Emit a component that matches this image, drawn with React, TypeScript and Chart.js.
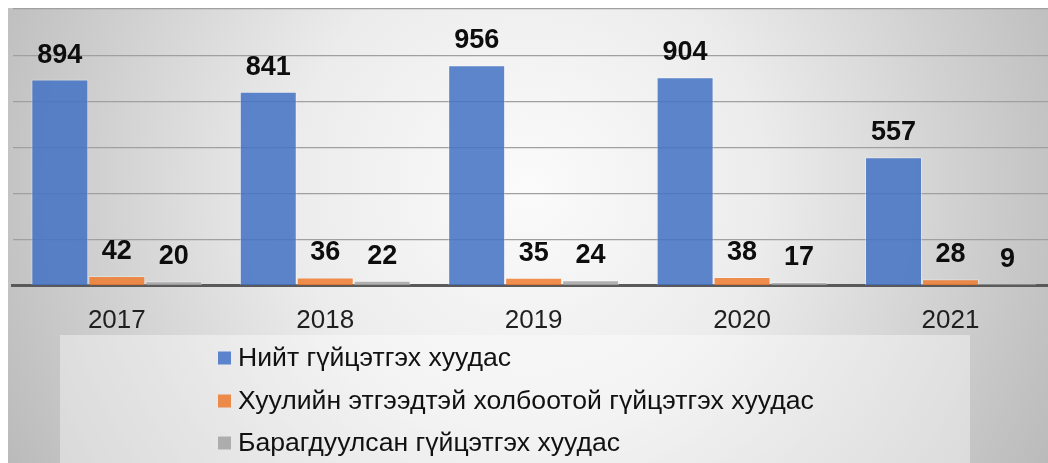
import React, { useEffect, useRef } from "react";
import { Chart, registerables } from "chart.js";

Chart.register(...registerables);

const categories = ["2017", "2018", "2019", "2020", "2021"];
const seriesNames = [
  "Нийт гүйцэтгэх хуудас",
  "Хуулийн этгээдтэй холбоотой гүйцэтгэх хуудас",
  "Барагдуулсан гүйцэтгэх хуудас",
];
const totalPages = [894, 841, 956, 904, 557];
const legalEntityPages = [42, 36, 35, 38, 28];
const resolvedPages = [20, 22, 24, 17, 9];
const yMax = 1200;
const yStep = 200;

const barColors = ["rgba(68,114,196,0.86)", "rgba(237,125,49,0.86)", "rgba(165,165,165,0.86)"];
const legendColors = ["#5b84cd", "#ec8a4a", "#adadad"];
const FONT = '"Liberation Sans", Arial, sans-serif';

const bgPlugin = {
  id: "bgPlugin",
  beforeDraw(chart: any) {
    const { ctx, width, height } = chart;
    ctx.save();
    const g = ctx.createRadialGradient(520, 180, 0, 520, 180, 590);
    g.addColorStop(0, "#fbfbfb");
    g.addColorStop(0.4, "#ececec");
    g.addColorStop(1, "#bababa");
    ctx.fillStyle = g;
    ctx.fillRect(0, 0, width, height);
    ctx.fillStyle = "rgba(255,255,255,0.4)";
    ctx.fillRect(52, 327, 910, height - 327);
    ctx.restore();
  },
};

const labelPlugin = {
  id: "labelPlugin",
  afterDatasetsDraw(chart: any) {
    const { ctx } = chart;
    ctx.save();
    ctx.font = `bold 27px ${FONT}`;
    ctx.fillStyle = "#0d0d0d";
    ctx.textAlign = "center";
    ctx.textBaseline = "alphabetic";
    chart.data.datasets.forEach((ds: any, i: number) => {
      const meta = chart.getDatasetMeta(i);
      meta.data.forEach((el: any, j: number) => {
        ctx.fillText(String(ds.data[j]), el.x, el.y - 17);
      });
    });
    ctx.restore();
  },
};

const legendPlugin = {
  id: "customLegend",
  afterDraw(chart: any) {
    const { ctx } = chart;
    ctx.save();
    ctx.font = `26.6px ${FONT}`;
    ctx.textAlign = "left";
    ctx.textBaseline = "middle";
    const rows = [350, 393, 435];
    chart.data.datasets.forEach((ds: any, i: number) => {
      const cy = rows[i];
      ctx.fillStyle = legendColors[i];
      ctx.fillRect(210, cy - 6.5, 13, 13);
      ctx.fillStyle = "#111111";
      ctx.fillText(ds.label, 230, cy + 1);
    });
    ctx.restore();
  },
};

export default function App() {
  const ref = useRef<HTMLCanvasElement | null>(null);
  useEffect(() => {
    if (!ref.current) return;
    const chart = new Chart(ref.current, {
      type: "bar",
      data: {
        labels: categories,
        datasets: [
          { label: seriesNames[0], data: totalPages, backgroundColor: barColors[0] },
          { label: seriesNames[1], data: legalEntityPages, backgroundColor: barColors[1] },
          { label: seriesNames[2], data: resolvedPages, backgroundColor: barColors[2] },
        ].map((d) => ({
          ...d,
          borderColor: "rgba(255,255,255,0.35)",
          borderWidth: 1,
          categoryPercentage: 0.82,
          barPercentage: 1,
        })),
      },
      options: {
        animation: false,
        responsive: true,
        maintainAspectRatio: false,
        layout: { padding: { left: 4.6, right: 5.3, top: 1, bottom: 108 } },
        plugins: {
          legend: { display: false },
          tooltip: { enabled: false },
        },
        scales: {
          x: {
            grid: { display: false, drawTicks: false },
            border: { display: true, color: "#595959", width: 3 },
            ticks: {
              color: "#1f1f1f",
              padding: 19,
              font: { family: FONT, size: 26 },
            },
          },
          y: {
            min: 0,
            max: yMax,
            ticks: { display: false, stepSize: yStep },
            grid: { color: "#a0a0a0", lineWidth: 1.2, drawTicks: false },
            border: { display: false },
          },
        },
      },
      plugins: [bgPlugin, labelPlugin, legendPlugin],
    });
    return () => chart.destroy();
  }, []);

  return (
    <div style={{ position: "absolute", left: 8, top: 8, width: 1040, height: 455, overflow: "hidden" }}>
      <div style={{ position: "relative", width: 1052, height: 455 }}>
        <canvas ref={ref} />
      </div>
    </div>
  );
}
